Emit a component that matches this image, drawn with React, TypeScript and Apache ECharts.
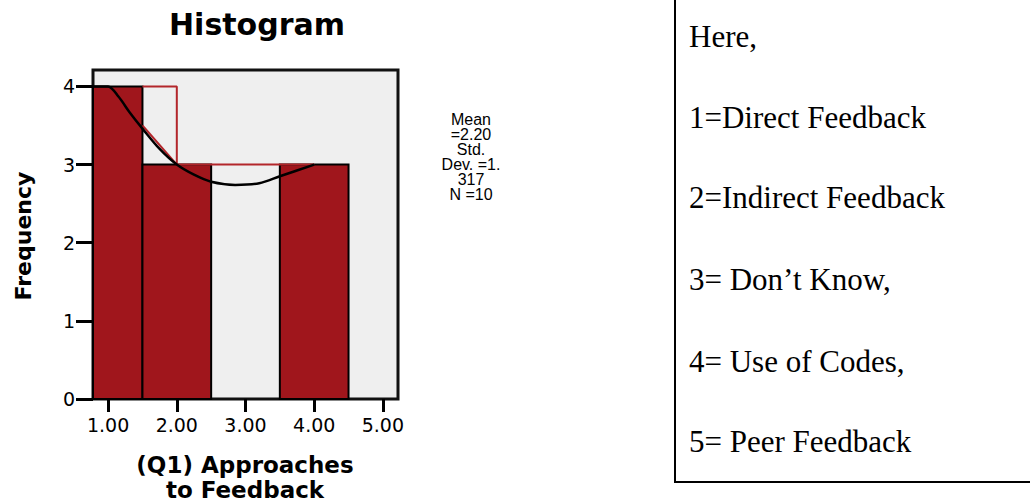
import React, { useEffect, useRef } from "react";
import * as echarts from "echarts";

// Histogram bins and counts
const binStarts = [0.5, 1.5, 2.5, 3.5, 4.5];
const binEnds = [1.5, 2.5, 3.5, 4.5, 5.5];
const counts = [4, 3, 0, 3, 0];

// Black fitted curve
const curveX = [0.78, 1.0, 1.15, 1.32, 1.5, 1.75, 2.0, 2.25, 2.5, 2.85, 3.2, 3.5, 4.0];
const curveY = [4.0, 4.0, 3.87, 3.66, 3.46, 3.2, 3.0, 2.87, 2.78, 2.74, 2.76, 2.85, 3.0];

// Red outline overlay
const redStepX = [1.5, 2.0, 2.0, 4.0];
const redStepY = [4, 4, 3, 3];
const redDiagX = [1.5, 2.0];
const redDiagY = [3.5, 3.0];

const xTicks = [1, 2, 3, 4, 5];
const yTicks = [0, 1, 2, 3, 4];

const statsLines = ["Mean", "=2.20", "Std.", "Dev. =1.", "317", "N =10"];
const legendLines = [
  "Here,",
  "1=Direct Feedback",
  "2=Indirect Feedback",
  "3= Don\u2019t Know,",
  "4= Use of Codes,",
  "5= Peer Feedback",
];

const BAR_COLOR = "#A0161C";
const RED_LINE = "#B3262B";

export default function App() {
  const ref = useRef<HTMLDivElement>(null);
  useEffect(() => {
    if (!ref.current) return;
    const chart = echarts.init(ref.current, null, { renderer: "svg" });
    const barData = binStarts.map((s, i) => [s, binEnds[i], counts[i]]);
    const legendBaselines = [47, 128, 208, 290, 372, 452];
    const option: any = {
      animation: false,
      backgroundColor: "#ffffff",
      grid: {
        left: 93,
        top: 70,
        width: 305,
        height: 329,
        show: true,
        backgroundColor: "#EFEFEF",
        borderColor: "#111",
        borderWidth: 3,
        containLabel: false,
      },
      xAxis: {
        type: "value",
        min: 0.78,
        max: 5.22,
        axisLine: { show: false },
        splitLine: { show: false },
        axisTick: {
          show: true,
          length: 13,
          customValues: xTicks,
          lineStyle: { color: "#000", width: 3 },
        },
        axisLabel: {
          customValues: xTicks,
          formatter: (v: number) => v.toFixed(2),
          color: "#000",
          fontFamily: "DejaVu Sans",
          fontSize: 19,
          margin: 16,
        },
      },
      yAxis: {
        type: "value",
        min: 0,
        max: 4.21,
        axisLine: { show: false },
        splitLine: { show: false },
        axisTick: {
          show: true,
          length: 17,
          customValues: yTicks,
          lineStyle: { color: "#000", width: 3 },
        },
        axisLabel: {
          customValues: yTicks,
          color: "#000",
          fontFamily: "DejaVu Sans",
          fontSize: 19,
          margin: 18,
        },
      },
      series: [
        {
          type: "custom",
          z: 2,
          data: barData,
          renderItem: (params: any, api: any) => {
            const x0 = api.value(0);
            const x1 = api.value(1);
            const h = api.value(2);
            if (!h) return null;
            const p0 = api.coord([x0, h]);
            const p1 = api.coord([x1, 0]);
            const cs = params.coordSys;
            const rect = echarts.graphic.clipRectByRect(
              { x: p0[0], y: p0[1], width: p1[0] - p0[0], height: p1[1] - p0[1] },
              { x: cs.x, y: cs.y, width: cs.width, height: cs.height }
            );
            if (!rect) return null;
            return {
              type: "rect",
              shape: rect,
              style: { fill: BAR_COLOR, stroke: "#000", lineWidth: 2 },
            };
          },
        },
        {
          type: "line",
          z: 3,
          data: redStepX.map((x, i) => [x, redStepY[i]]),
          symbol: "none",
          lineStyle: { color: RED_LINE, width: 2 },
        },
        {
          type: "line",
          z: 3,
          data: redDiagX.map((x, i) => [x, redDiagY[i]]),
          symbol: "none",
          lineStyle: { color: RED_LINE, width: 2 },
        },
        {
          type: "line",
          z: 4,
          data: curveX.map((x, i) => [x, curveY[i]]),
          symbol: "none",
          smooth: 0.3,
          lineStyle: { color: "#000", width: 2.5 },
        },
      ],
      graphic: [
        {
          type: "text",
          x: 257,
          y: 24,
          style: {
            text: "Histogram",
            font: "bold 30px 'DejaVu Sans'",
            fill: "#000",
            textAlign: "center",
            textVerticalAlign: "middle",
          },
        },
        {
          type: "text",
          x: 245,
          y: 477,
          style: {
            text: "(Q1) Approaches\nto Feedback",
            font: "bold 23px 'DejaVu Sans'",
            lineHeight: 25,
            fill: "#000",
            textAlign: "center",
            textVerticalAlign: "middle",
          },
        },
        {
          type: "text",
          x: 23,
          y: 236,
          rotation: Math.PI / 2,
          style: {
            text: "Frequency",
            font: "bold 22px 'DejaVu Sans'",
            fill: "#000",
            textAlign: "center",
            textVerticalAlign: "middle",
          },
        },
        ...statsLines.map((t, i) => ({
          type: "text",
          x: 471,
          y: 119 + i * 15,
          style: {
            text: t,
            font: "16px 'Liberation Sans'",
            fill: "#000",
            textAlign: "center",
            textVerticalAlign: "middle",
          },
        })),
        {
          type: "polyline",
          shape: { points: [[675, 0], [675, 482], [1032, 482]] },
          style: { stroke: "#000", lineWidth: 2, fill: "none" },
        },
        ...legendLines.map((t, i) => ({
          type: "text",
          x: 689,
          y: legendBaselines[i] - 10.5,
          style: {
            text: t,
            font: "31px 'Liberation Serif'",
            fill: "#000",
            textAlign: "left",
            textVerticalAlign: "middle",
          },
        })),
      ],
    };
    chart.setOption(option);
    return () => chart.dispose();
  }, []);
  return (
    <div
      ref={ref}
      style={{ position: "fixed", left: 0, top: 0, width: 1030, height: 502, background: "#fff" }}
    />
  );
}
